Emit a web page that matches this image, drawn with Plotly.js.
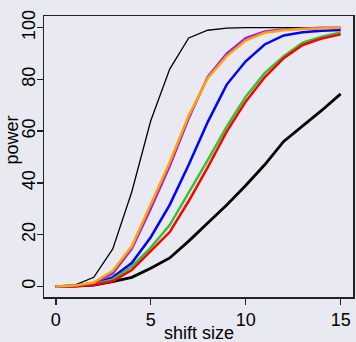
<!DOCTYPE html>
<html>
<head>
<meta charset="utf-8">
<script src="https://cdn.plot.ly/plotly-3.0.1.min.js"></script>
<style>html,body{margin:0;padding:0;background:#E9E9F1;}#chart{width:356px;height:342px;}</style>
</head>
<body>
<div id="chart"></div>
<script>
const shiftSize = [0,1,2,3,4,5,6,7,8,9,10,11,12,13,14,15];
const thinBlack = [0,0.5,3.5,14.5,36.5,64,84,96,99,99.8,100,100,100,100,100,100];
const purple    = [0,0.3,1.3,5,14.5,30,46.5,65,81,90,96,98.5,99.3,99.7,100,100];
const orange    = [0,0.3,1.5,6,15.5,31.5,48,66,80.5,89,95,98,99,99.5,99.8,100];
const blue      = [0,0.2,1,3.5,9,19,31.5,47,63.5,78,87,93.5,97,98.2,98.8,99.1];
const green     = [0,0.2,0.8,2.7,7.6,15,23.7,36,48.8,61.7,73.3,82.4,89,94.2,96.5,98.1];
const red       = [0,0.1,0.6,2,6.3,13.5,21,33,46,59.8,71.4,80.8,88.2,93.3,95.8,97.4];
const thickBlack= [0,0.1,0.5,1.8,3.5,7,11,17.5,24.5,31.5,39,47,56,62,68,74.4];
const xTicks = [0,5,10,15];
const yTicks = [0,20,40,60,80,100];

function tr(y, color, width){
  return {x: shiftSize, y: y, type:'scatter', mode:'lines', line:{color:color, width:width}, hoverinfo:'skip'};
}
const data = [
  tr(thinBlack,'#000000',1.3),
  tr(thickBlack,'#000000',2.8),
  tr(blue,'#0000FF',2.5),
  tr(green,'#33C233',2.5),
  tr(red,'#FF0000',2.5),
  tr(purple,'#A020F0',2.5),
  tr(orange,'#FFA500',2.5)
];
const font = {family:'"Liberation Sans", Arial, sans-serif', size:18, color:'#000'};
const layout = {
  width:356, height:342,
  margin:{l:44, r:3, t:16, b:45},
  paper_bgcolor:'#E9E9F1', plot_bgcolor:'#E9E9F1',
  showlegend:false,
  font: font,
  xaxis:{range:[-0.62,15.65], tickvals:xTicks, ticktext:xTicks.map(String), ticks:'outside', ticklen:6, tickwidth:1.5, tickcolor:'#222',
         showline:true, mirror:true, linecolor:'#222', linewidth:1.5, showgrid:false, zeroline:false, tickfont:font},
  yaxis:{range:[-4.1,104.5], tickvals:yTicks, ticktext:yTicks.map(String), ticks:'outside', ticklen:6, tickwidth:1.5, tickcolor:'#222', tickangle:-90,
         ticklabelstandoff:-6,
         showline:true, mirror:true, linecolor:'#222', linewidth:1.5, showgrid:false, zeroline:false, tickfont:font},
  annotations:[
    {text:'shift size', xref:'paper', yref:'paper', x:0.5, y:-0.128, xanchor:'center', yanchor:'middle', showarrow:false, font:font},
    {text:'power', xref:'paper', yref:'paper', x:-0.105, y:0.559, xanchor:'center', yanchor:'middle', textangle:-90, showarrow:false, font:font}
  ]
};
Plotly.newPlot('chart', data, layout, {staticPlot:true, displayModeBar:false});
</script>
</body>
</html>
